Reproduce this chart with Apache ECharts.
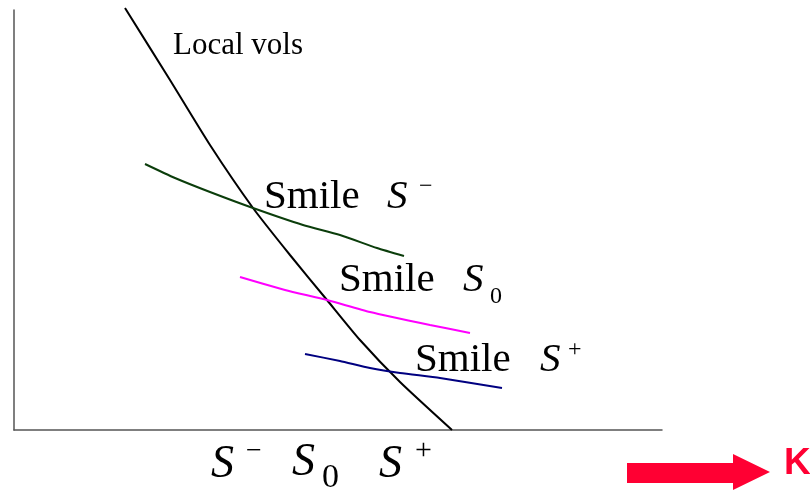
<!DOCTYPE html>
<html>
<head>
<meta charset="utf-8">
<script src="https://cdn.jsdelivr.net/npm/echarts@6/dist/echarts.min.js"></script>
<style>
  html, body { margin: 0; padding: 0; background: #fff; }
  #chart { width: 810px; height: 491px; }
</style>
</head>
<body>
<div id="chart"></div>
<script>
// strike (x) and vol (y) in plot units
const localVols = [[111, 422], [156, 350], [196, 285], [239, 222], [276, 175], [313, 130], [346, 90], [386, 48], [438, 0]];
const smileMinus = [[131, 266], [161, 252], [196, 238], [239, 222], [289, 205], [326, 195], [363, 182], [390, 174]];
const smileZero = [[226, 153], [271, 140], [313, 130], [356, 118], [416, 105], [456, 97]];
const smilePlus = [[291, 76], [326, 69], [356, 62], [386, 57], [426, 52], [488, 42]];

const serif = '"Liberation Serif", "DejaVu Serif", serif';

const chart = echarts.init(document.getElementById('chart'));

const lineSeries = (name, data, color, width) => ({
  name: name,
  type: 'line',
  data: data,
  symbol: 'none',
  clip: false,
  smooth: 0.2,
  lineStyle: { color: color, width: width },
  silent: true
});

const txt = (text, x, y, size, italic, color, weight, family) => ({
  type: 'text',
  x: x,
  y: y,
  style: {
    text: text,
    fill: color || '#000',
    font: (italic ? 'italic ' : '') + (weight || 'normal') + ' ' + size + 'px ' + (family || serif),
    textVerticalAlign: 'middle'
  }
});

chart.setOption({
  animation: false,
  grid: { left: 14, right: 148, top: 10, bottom: 61 },
  xAxis: {
    type: 'value', min: 0, max: 648,
    axisLine: { lineStyle: { color: '#555', width: 1.5 } },
    axisTick: { show: false }, axisLabel: { show: false }, splitLine: { show: false }
  },
  yAxis: {
    type: 'value', min: 0, max: 420,
    axisLine: { show: true, lineStyle: { color: '#555', width: 1.5 } },
    axisTick: { show: false }, axisLabel: { show: false }, splitLine: { show: false }
  },
  series: [
    lineSeries('Local vols', localVols, '#000', 2),
    lineSeries('Smile S-', smileMinus, '#0b3d0b', 2),
    lineSeries('Smile S0', smileZero, '#ff00ff', 2),
    lineSeries('Smile S+', smilePlus, '#000080', 2)
  ],
  graphic: [
    txt('Local vols', 173, 46, 31),
    txt('Smile', 264, 197, 41),
    txt('S', 387, 197, 41, true),
    txt('−', 419, 187, 24),
    txt('Smile', 339, 280, 41),
    txt('S', 463, 280, 41, true),
    txt('0', 490, 297, 24),
    txt('Smile', 415, 360, 41),
    txt('S', 540, 360, 41, true),
    txt('+', 568, 350, 24),
    txt('S', 211, 465, 46, true),
    txt('−', 246, 452, 28),
    txt('S', 292, 463, 46, true),
    txt('0', 322, 478, 34),
    txt('S', 379, 465, 46, true),
    txt('+', 415, 451, 30),
    {
      type: 'polygon',
      shape: { points: [[627, 463], [733, 463], [733, 454], [770, 472], [733, 490], [733, 483], [627, 483]] },
      style: { fill: '#ff0033' }
    },
    txt('K', 784, 464, 37, false, '#ff0033', 'bold', '"Liberation Sans", Arial, sans-serif')
  ]
});
</script>
</body>
</html>
